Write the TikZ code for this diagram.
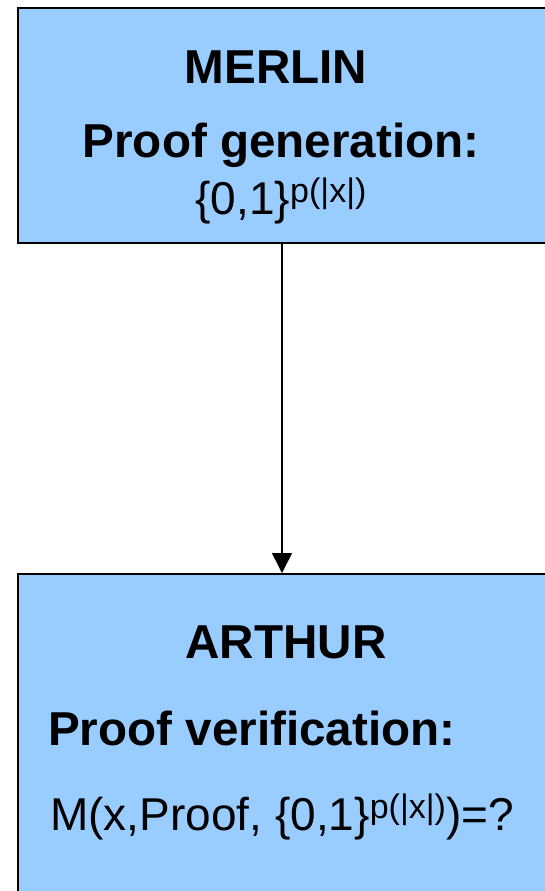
\documentclass[tikz,border=0pt]{standalone}
\usepackage{fontspec}
\setmainfont{Liberation Sans}
\usepackage{xcolor}
\usetikzlibrary{positioning,arrows.meta}

\definecolor{boxblue}{HTML}{99CCFF}
\newcommand{\plen}{{\fontsize{34}{40}\selectfont\raisebox{12pt}{p(|x|)}}}

\tikzset{
  panel/.style={draw=black, line width=2pt, fill=boxblue, rectangle,
    anchor=north west, inner sep=0pt, minimum width=560pt},
  heading/.style={font=\bfseries\fontsize{47.6}{57}\selectfont, inner sep=0pt},
  body/.style={font=\fontsize{46}{55}\selectfont, inner sep=0pt},
  link/.style={line width=1.5pt, -{Triangle[width=20pt,length=20pt]}}
}

\begin{document}
\begin{tikzpicture}[x=1pt, y=-1pt]
\useasboundingbox (0,0) rectangle (545,891);
\clip (0,0) rectangle (545,891);

% the two parties
\node[panel, minimum height=235pt] (merlin) at (17,7) {};
\node[panel, minimum height=340pt] (arthur) at (17,573) {};

% merlin text
\node[heading, anchor=base] (mname) at (276,83) {MERLIN};
\node[heading, anchor=base] (mtask) at (281,157) {Proof generation:};
\node[body, anchor=base] (mstr) at (281,214) {\{0,1\}\plen};

% arthur text
\node[heading, anchor=base] (aname) at (286,658) {ARTHUR};
\node[heading, anchor=base west] (atask) at (48,745) {Proof verification:};
\node[body, anchor=base west] (acheck) at (50,830) {M(x,Proof, \{0,1\}\plen)=?};

% proof is sent down
\coordinate (send) at (282,242);
\draw[link] (send) -- (send |- arthur.north);
\end{tikzpicture}
\end{document}
